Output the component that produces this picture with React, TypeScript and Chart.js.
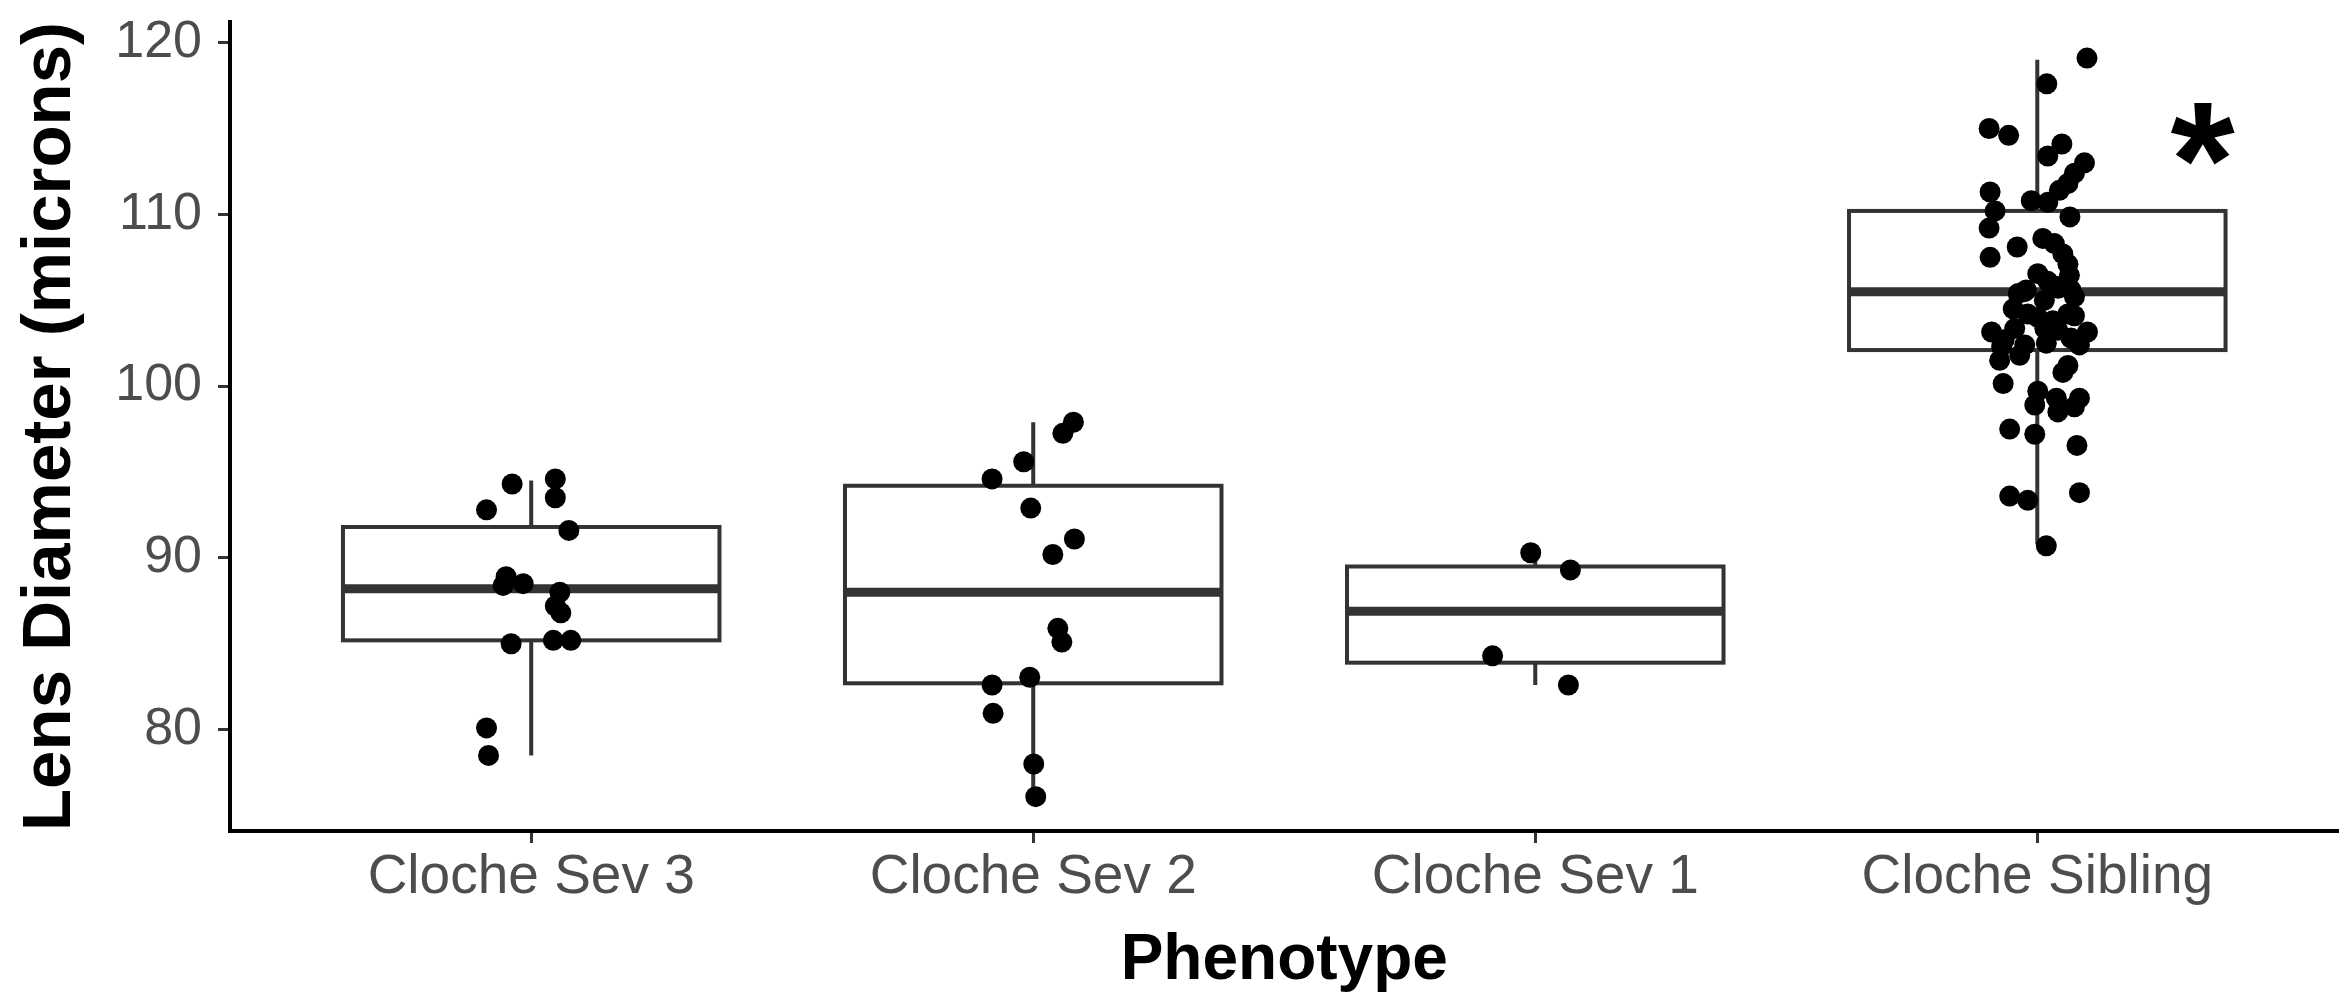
import React, { useEffect, useRef } from 'react';
import { Chart, registerables } from 'chart.js';

Chart.register(...registerables);

// ---------- data ----------
const categories = ['Cloche Sev 3', 'Cloche Sev 2', 'Cloche Sev 1', 'Cloche Sibling'];
const yTicks = [80, 90, 100, 110, 120];

// box statistics
const boxMin = [78.5, 76.1, 82.6, 90.8];
const boxQ1 = [85.2, 82.7, 83.9, 102.1];
const boxMedian = [88.2, 88.0, 86.9, 105.5];
const boxQ3 = [91.8, 94.2, 89.5, 110.2];
const boxMax = [94.5, 97.9, 90.3, 119.0];

// jittered points: values and horizontal jitter (category units)
const sev3Values = [92.8, 94.3, 94.6, 93.5, 91.6, 88.9, 88.4, 88.5, 88.0, 87.2, 86.8, 85.0, 85.2, 85.2, 80.1, 78.5];
const sev3Jitter = [-0.089, -0.038, 0.048, 0.048, 0.075, -0.05, -0.056, -0.016, 0.057, 0.048, 0.059, -0.04, 0.044, 0.079, -0.089, -0.085];

const sev2Values = [97.9, 97.25, 95.6, 94.6, 92.9, 91.1, 90.2, 85.9, 85.1, 83.05, 82.6, 80.95, 78.0, 76.1];
const sev2Jitter = [0.08, 0.059, -0.019, -0.082, -0.005, 0.082, 0.039, 0.049, 0.057, -0.007, -0.082, -0.08, 0.001, 0.005];

const sev1Values = [90.3, 89.3, 84.3, 82.6];
const sev1Jitter = [-0.009, 0.07, -0.085, 0.066];

const siblingValues = [
  119.1, 117.6, 115.0, 114.6, 114.1, 113.4, 113.0, 112.4, 111.8, 111.4,
  111.3, 110.8, 110.7, 110.2, 109.85, 109.2, 108.1, 108.6, 107.5, 108.3,
  107.7, 107.1, 106.45, 106.1, 105.6, 105.5, 105.7, 105.2, 104.5, 104.0,
  104.1, 103.15, 103.35, 103.35, 103.25, 103.15, 102.3, 102.4, 102.5, 102.4,
  101.5, 101.8, 101.2, 100.8, 100.15, 99.7, 99.3, 99.3, 98.9, 98.5,
  98.8, 97.5, 97.2, 96.55, 93.6, 93.35, 93.8, 90.7,
  102.7, 104.2, 103.8, 102.8, 105.4, 105.0, 104.2, 106.55, 105.8, 105.6,
];
const siblingJitter = [
  0.099, 0.019, -0.096, -0.057, 0.049, 0.021, 0.094, 0.074, 0.061, 0.044,
  -0.094, -0.012, 0.021, -0.084, 0.065, -0.096, -0.04, 0.011, -0.094, 0.034,
  0.051, 0.061, 0.064, 0.021, -0.022, -0.025, 0.041, 0.074, -0.048, 0.001,
  0.074, -0.091, -0.045, 0.015, 0.041, 0.1, -0.071, -0.025, 0.018, 0.084,
  -0.075, -0.035, 0.061, 0.051, -0.068, 0.001, 0.038, 0.084, -0.005, 0.041,
  0.074, -0.055, -0.005, 0.079, -0.055, -0.019, 0.084, 0.018,
  -0.066, -0.019, 0.031, 0.067, -0.038, 0.014, 0.061, 0.001, 0.041, 0.067,
];

const groupValues = [sev3Values, sev2Values, sev1Values, siblingValues];
const groupJitter = [sev3Jitter, sev2Jitter, sev1Jitter, siblingJitter];

// significance marker
const markerText = '*';
const markerX = 3.33;
const markerY = 114.7;

// ---------- styles ----------
const FONT = '"Liberation Sans", Arial, Helvetica, sans-serif';
const BOX_HALF = 0.375;
const BOX_LINE = '#333333';

const boxPlugin = {
  id: 'boxplots',
  beforeDatasetsDraw(chart: any) {
    const { ctx, scales } = chart;
    const x = scales.x;
    const y = scales.y;
    ctx.save();
    categories.forEach((_, i) => {
      const cx = x.getPixelForValue(i);
      const left = x.getPixelForValue(i - BOX_HALF);
      const right = x.getPixelForValue(i + BOX_HALF);
      const yMin = y.getPixelForValue(boxMin[i]);
      const yQ1 = y.getPixelForValue(boxQ1[i]);
      const yMed = y.getPixelForValue(boxMedian[i]);
      const yQ3 = y.getPixelForValue(boxQ3[i]);
      const yMax = y.getPixelForValue(boxMax[i]);
      // whiskers
      ctx.strokeStyle = BOX_LINE;
      ctx.lineWidth = 4;
      ctx.lineCap = 'butt';
      ctx.beginPath();
      ctx.moveTo(cx, yQ3);
      ctx.lineTo(cx, yMax);
      ctx.moveTo(cx, yQ1);
      ctx.lineTo(cx, yMin);
      ctx.stroke();
      // box
      ctx.fillStyle = '#ffffff';
      ctx.fillRect(left, yQ3, right - left, yQ1 - yQ3);
      ctx.lineWidth = 4;
      ctx.strokeRect(left, yQ3, right - left, yQ1 - yQ3);
      // median
      ctx.lineWidth = 9;
      ctx.beginPath();
      ctx.moveTo(left, yMed);
      ctx.lineTo(right, yMed);
      ctx.stroke();
    });
    ctx.restore();
  },
  afterDatasetsDraw(chart: any) {
    const { ctx, scales } = chart;
    const px = scales.x.getPixelForValue(markerX);
    const py = scales.y.getPixelForValue(markerY);
    ctx.save();
    ctx.font = `bold 165px ${FONT}`;
    ctx.fillStyle = '#000000';
    ctx.textAlign = 'left';
    ctx.textBaseline = 'alphabetic';
    const m = ctx.measureText(markerText);
    const inkCx = (m.actualBoundingBoxRight - m.actualBoundingBoxLeft) / 2;
    const inkCy = (m.actualBoundingBoxDescent - m.actualBoundingBoxAscent) / 2;
    ctx.fillText(markerText, px - inkCx, py - inkCy);
    ctx.restore();
  },
};

export default function App() {
  const ref = useRef<HTMLCanvasElement>(null);

  useEffect(() => {
    document.body.style.margin = '0';
    const datasets = categories.map((name, i) => ({
      label: name,
      data: groupValues[i].map((v, k) => ({ x: i + groupJitter[i][k], y: v })),
      backgroundColor: '#000000',
      borderColor: '#000000',
      borderWidth: 0,
      pointRadius: 10.5,
      pointHoverRadius: 10.5,
    }));

    const chart = new Chart(ref.current as HTMLCanvasElement, {
      type: 'scatter',
      data: { datasets },
      options: {
        animation: false,
        responsive: false,
        devicePixelRatio: 1,
        layout: { padding: { top: 22, right: 0, bottom: 0, left: 0 } },
        plugins: {
          legend: { display: false },
          tooltip: { enabled: false },
        },
        scales: {
          x: {
            type: 'linear',
            min: -0.6,
            max: 3.6,
            afterBuildTicks: (s: any) => {
              s.ticks = categories.map((_, i) => ({ value: i }));
            },
            afterFit: (s: any) => {
              s.height = 162;
              s.paddingLeft = 0;
              s.paddingRight = 0;
            },
            ticks: {
              callback: (v: any) => categories[Math.round(Number(v))],
              font: { family: FONT, size: 55 },
              color: '#4d4d4d',
              padding: 2,
              autoSkip: false,
              maxRotation: 0,
              minRotation: 0,
            },
            grid: {
              display: true,
              drawOnChartArea: false,
              drawTicks: true,
              tickLength: 12,
              tickWidth: 3,
              tickColor: '#333333',
            },
            border: { display: true, color: '#000000', width: 4 },
            title: {
              display: true,
              text: 'Phenotype',
              color: '#000000',
              font: { family: FONT, size: 64, weight: 'bold', lineHeight: 1 },
              padding: { top: 0, bottom: 0 },
            },
          },
          y: {
            type: 'linear',
            min: 74.1,
            max: 121.2,
            afterBuildTicks: (s: any) => {
              s.ticks = yTicks.map((v) => ({ value: v }));
            },
            afterFit: (s: any) => {
              s.width = 230;
              s.paddingTop = 0;
              s.paddingBottom = 0;
            },
            ticks: {
              font: { family: FONT, size: 52 },
              color: '#4d4d4d',
              padding: 16,
            },
            grid: {
              display: true,
              drawOnChartArea: false,
              drawTicks: true,
              tickLength: 12,
              tickWidth: 3,
              tickColor: '#333333',
            },
            border: { display: true, color: '#000000', width: 4 },
            title: {
              display: true,
              text: 'Lens Diameter (microns)',
              color: '#000000',
              font: { family: FONT, size: 69, weight: 'bold' },
              padding: { top: 10, bottom: 0 },
            },
          },
        },
      },
      plugins: [boxPlugin],
    } as any);

    return () => chart.destroy();
  }, []);

  return (
    <div style={{ position: 'fixed', left: 0, top: 0, width: 2349, height: 993, background: '#ffffff' }}>
      <canvas ref={ref} width={2349} height={993} style={{ display: 'block', width: 2349, height: 993 }} />
    </div>
  );
}
